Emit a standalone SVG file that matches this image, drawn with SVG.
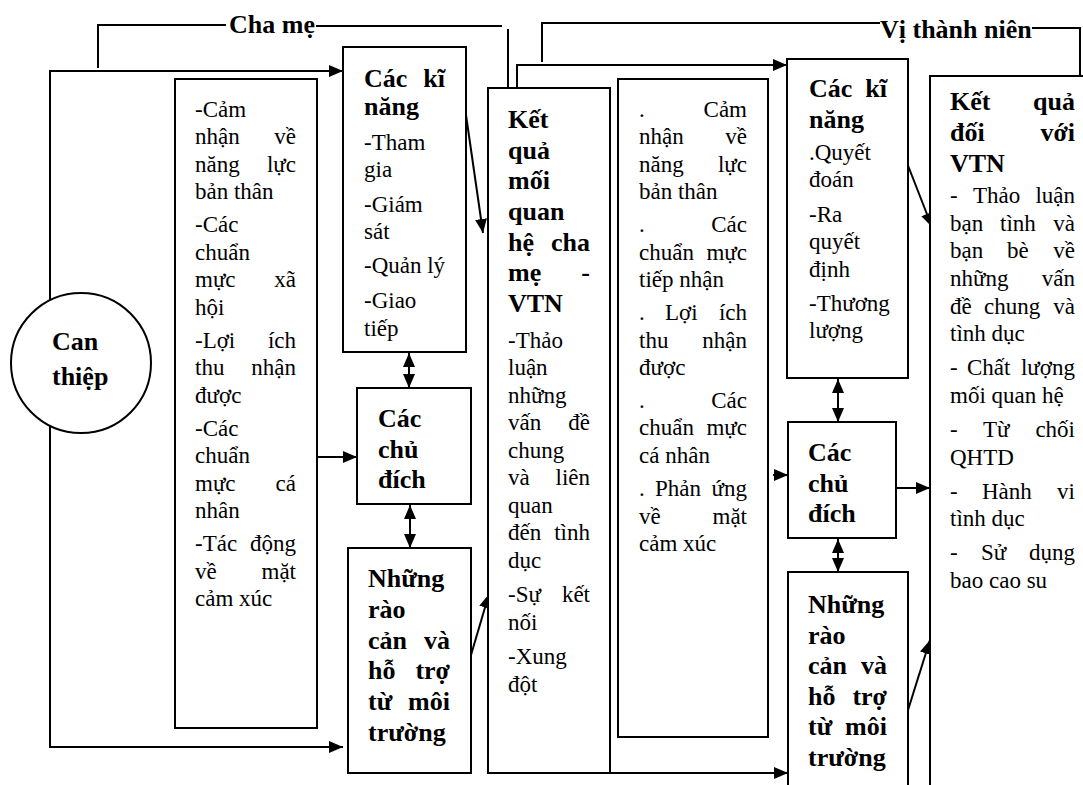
<svg xmlns="http://www.w3.org/2000/svg" width="1083" height="785" viewBox="0 0 1083 785">
<style>
.box{fill:#fff;stroke:#000;stroke-width:2}
.ln{fill:none;stroke:#000;stroke-width:2}
.ar{marker-end:url(#ah)}
.dar{marker-end:url(#ah);marker-start:url(#ah)}
text{font-family:"Liberation Serif","Times New Roman",serif;font-size:23px;fill:#000}
.b{font-weight:bold;font-size:26px}
.e{text-anchor:end}
</style>
<defs>
<marker id="ah" markerUnits="userSpaceOnUse" markerWidth="14" markerHeight="12" refX="14" refY="6" orient="auto-start-reverse">
<path d="M0,0 L14,6 L0,12 Z" fill="#000"/>
</marker>
</defs>
<rect width="1083" height="785" fill="#fff"/>

<g id="connectors">
<polyline class="ln" points="98,68 98,25 226,25"/>
<polyline class="ln" points="316,26 502,26"/>
<line class="ln" x1="508" y1="29" x2="508" y2="88"/>
<polyline class="ln" points="542,62 542,23 880,23"/>
<polyline class="ln" points="1032,28 1080,28 1080,76"/>
<polyline class="ln ar" points="50,300 50,71 343,71"/>
<polyline class="ln ar" points="50,424 50,747 343,747"/>
<line class="ln ar" x1="317" y1="457" x2="357" y2="457"/>
<line class="ln dar" x1="409" y1="353" x2="409" y2="388"/>
<line class="ln dar" x1="410" y1="505" x2="410" y2="548"/>
<line class="ln ar" x1="466" y1="115" x2="483" y2="233"/>
<line class="ln ar" x1="471" y1="655" x2="489" y2="594"/>
<polyline class="ln ar" points="517,88 517,65 787,65"/>
<line class="ln ar" x1="508" y1="773" x2="788" y2="773"/>
<line class="ln ar" x1="773" y1="475" x2="788" y2="475"/>
<line class="ln dar" x1="838" y1="379" x2="838" y2="422"/>
<line class="ln dar" x1="838" y1="539" x2="838" y2="572"/>
<line class="ln ar" x1="907" y1="163" x2="932" y2="227"/>
<line class="ln ar" x1="896" y1="488" x2="930" y2="488"/>
<line class="ln ar" x1="908" y1="710" x2="930" y2="640"/>
<text class="b" x="229" y="33">Cha mẹ</text>
<text class="b" x="880" y="38">Vị thành niên</text>
</g>

<g id="can-thiep">
<circle class="box" cx="81" cy="363" r="70"/>
<text class="b" x="52" y="350">Can</text>
<text class="b" x="52" y="385">thiệp</text>
</g>

<g id="left-factors">
<rect class="box" x="175" y="79" width="142" height="649"/>
<text x="195" y="117">-Cảm</text>
<text x="195" y="144">nhận</text><text class="e" x="296" y="144">về</text>
<text x="195" y="172">năng</text><text class="e" x="296" y="172">lực</text>
<text x="195" y="199">bản thân</text>
<text x="195" y="232">-Các</text>
<text x="195" y="260">chuẩn</text>
<text x="195" y="287">mực</text><text class="e" x="296" y="287">xã</text>
<text x="195" y="315">hội</text>
<text x="195" y="348">-Lợi</text><text class="e" x="296" y="348">ích</text>
<text x="195" y="375">thu</text><text class="e" x="296" y="375">nhận</text>
<text x="195" y="403">được</text>
<text x="195" y="436">-Các</text>
<text x="195" y="463">chuẩn</text>
<text x="195" y="491">mực</text><text class="e" x="296" y="491">cá</text>
<text x="195" y="518">nhân</text>
<text x="195" y="551">-Tác</text><text class="e" x="296" y="551">động</text>
<text x="195" y="579">về</text><text class="e" x="296" y="579">mặt</text>
<text x="195" y="606">cảm xúc</text>
</g>

<g id="left-skills">
<rect class="box" x="343" y="47" width="123" height="305"/>
<text class="b" x="364" y="87">Các</text><text class="b e" x="445" y="87">kĩ</text>
<text class="b" x="364" y="115">năng</text>
<text x="364" y="150">-Tham</text>
<text x="364" y="177">gia</text>
<text x="364" y="212">-Giám</text>
<text x="364" y="239">sát</text>
<text x="364" y="273">-Quản lý</text>
<text x="364" y="308">-Giao</text>
<text x="364" y="336">tiếp</text>
</g>

<g id="left-intent">
<rect class="box" x="357" y="388" width="114" height="116"/>
<text class="b" x="378" y="427">Các</text>
<text class="b" x="378" y="458">chủ</text>
<text class="b" x="378" y="488">đích</text>
</g>

<g id="left-env">
<rect class="box" x="348" y="548" width="123" height="225"/>
<text class="b" x="368" y="587">Những</text>
<text class="b" x="368" y="618">rào</text>
<text class="b" x="368" y="649">cản</text><text class="b e" x="450" y="649">và</text>
<text class="b" x="368" y="679">hỗ</text><text class="b e" x="450" y="679">trợ</text>
<text class="b" x="368" y="710">từ</text><text class="b e" x="450" y="710">môi</text>
<text class="b" x="368" y="741">trường</text>
</g>

<g id="relation-result">
<rect class="box" x="488" y="88" width="122" height="685"/>
<text class="b" x="508" y="128">Kết</text>
<text class="b" x="508" y="159">quả</text>
<text class="b" x="508" y="189">mối</text>
<text class="b" x="508" y="220">quan</text>
<text class="b" x="508" y="251">hệ</text><text class="b e" x="590" y="251">cha</text>
<text class="b" x="508" y="281">mẹ</text><text class="b e" x="590" y="281">-</text>
<text class="b" x="508" y="312">VTN</text>
<text x="508" y="348">-Thảo</text>
<text x="508" y="375">luận</text>
<text x="508" y="403">những</text>
<text x="508" y="430">vấn</text><text class="e" x="590" y="430">đề</text>
<text x="508" y="458">chung</text>
<text x="508" y="485">và</text><text class="e" x="590" y="485">liên</text>
<text x="508" y="513">quan</text>
<text x="508" y="540">đến</text><text class="e" x="590" y="540">tình</text>
<text x="508" y="568">dục</text>
<text x="508" y="602">-Sự</text><text class="e" x="590" y="602">kết</text>
<text x="508" y="630">nối</text>
<text x="508" y="664">-Xung</text>
<text x="508" y="692">đột</text>
</g>

<g id="right-factors">
<rect class="box" x="618" y="79" width="150" height="658"/>
<text x="639" y="117">.</text><text class="e" x="747" y="117">Cảm</text>
<text x="639" y="144">nhận</text><text class="e" x="747" y="144">về</text>
<text x="639" y="172">năng</text><text class="e" x="747" y="172">lực</text>
<text x="639" y="199">bản thân</text>
<text x="639" y="232">.</text><text class="e" x="747" y="232">Các</text>
<text x="639" y="260">chuẩn</text><text class="e" x="747" y="260">mực</text>
<text x="639" y="287">tiếp nhận</text>
<text x="639" y="320">.</text><text x="665" y="320">Lợi</text><text class="e" x="747" y="320">ích</text>
<text x="639" y="348">thu</text><text class="e" x="747" y="348">nhận</text>
<text x="639" y="375">được</text>
<text x="639" y="408">.</text><text class="e" x="747" y="408">Các</text>
<text x="639" y="435">chuẩn</text><text class="e" x="747" y="435">mực</text>
<text x="639" y="463">cá nhân</text>
<text x="639" y="496">.</text><text x="655" y="496">Phản</text><text class="e" x="747" y="496">ứng</text>
<text x="639" y="524">về</text><text class="e" x="747" y="524">mặt</text>
<text x="639" y="551">cảm xúc</text>
</g>

<g id="right-skills">
<rect class="box" x="787" y="59" width="121" height="319"/>
<text class="b" x="809" y="97">Các</text><text class="b e" x="887" y="97">kĩ</text>
<text class="b" x="809" y="128">năng</text>
<text x="809" y="160">.Quyết</text>
<text x="809" y="187">đoán</text>
<text x="809" y="222">-Ra</text>
<text x="809" y="249">quyết</text>
<text x="809" y="277">định</text>
<text x="809" y="311">-Thương</text>
<text x="809" y="338">lượng</text>
</g>

<g id="right-intent">
<rect class="box" x="788" y="422" width="108" height="116"/>
<text class="b" x="808" y="461">Các</text>
<text class="b" x="808" y="492">chủ</text>
<text class="b" x="808" y="522">đích</text>
</g>

<g id="right-env">
<rect class="box" x="788" y="572" width="120" height="230"/>
<text class="b" x="808" y="613">Những</text>
<text class="b" x="808" y="644">rào</text>
<text class="b" x="808" y="674">cản</text><text class="b e" x="887" y="674">và</text>
<text class="b" x="808" y="705">hỗ</text><text class="b e" x="887" y="705">trợ</text>
<text class="b" x="808" y="735">từ</text><text class="b e" x="887" y="735">môi</text>
<text class="b" x="808" y="766">trường</text>
</g>

<g id="youth-result">
<rect class="box" x="930" y="76" width="170" height="730"/>
<text class="b" x="950" y="110">Kết</text><text class="b e" x="1075" y="110">quả</text>
<text class="b" x="950" y="141">đối</text><text class="b e" x="1075" y="141">với</text>
<text class="b" x="950" y="172">VTN</text>
<text x="950" y="203">-</text><text x="973" y="203">Thảo</text><text class="e" x="1075" y="203">luận</text>
<text x="950" y="231">bạn</text><text x="1000" y="231">tình</text><text class="e" x="1075" y="231">và</text>
<text x="950" y="258">bạn</text><text x="1007" y="258">bè</text><text class="e" x="1075" y="258">về</text>
<text x="950" y="286">những</text><text class="e" x="1075" y="286">vấn</text>
<text x="950" y="314">đề</text><text x="984" y="314">chung</text><text class="e" x="1075" y="314">và</text>
<text x="950" y="341">tình dục</text>
<text x="950" y="375">-</text><text x="967" y="375">Chất</text><text class="e" x="1075" y="375">lượng</text>
<text x="950" y="403">mối quan hệ</text>
<text x="950" y="437">-</text><text x="983" y="437">Từ</text><text class="e" x="1075" y="437">chối</text>
<text x="950" y="465">QHTD</text>
<text x="950" y="499">-</text><text x="982" y="499">Hành</text><text class="e" x="1075" y="499">vi</text>
<text x="950" y="526">tình dục</text>
<text x="950" y="560">-</text><text x="981" y="560">Sử</text><text class="e" x="1075" y="560">dụng</text>
<text x="950" y="588">bao cao su</text>
</g>
</svg>
